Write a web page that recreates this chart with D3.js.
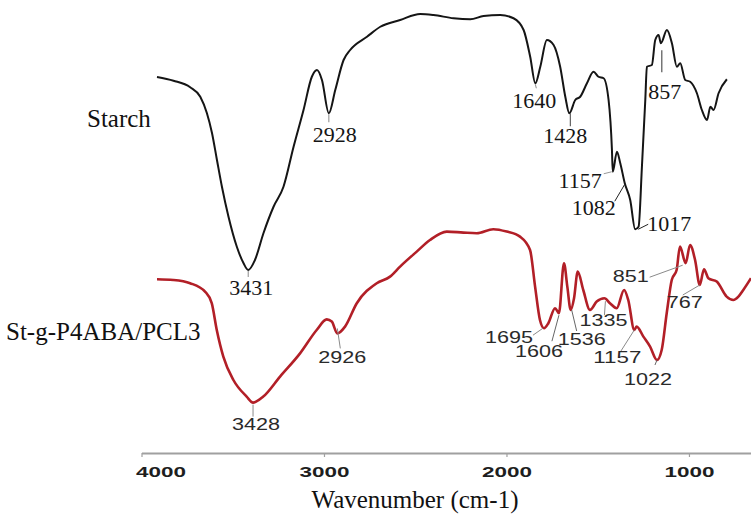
<!DOCTYPE html>
<html>
<head>
<meta charset="utf-8">
<script src="https://cdn.jsdelivr.net/npm/d3@7"></script>
<style>
  html, body { margin: 0; padding: 0; background: #fff; }
  svg { display: block; }
</style>
</head>
<body>
<svg id="chart" width="751" height="522"></svg>
<script>
// FTIR spectra: native starch and the grafted copolymer St-g-P4ABA/PCL3.
const seriesNames = ["Starch", "St-g-P4ABA/PCL3"];
const wavenumberTicks = [4000, 3000, 2000, 1000];
const axisTitle = "Wavenumber (cm-1)";

// Starch trace (wavenumber in cm-1, relative transmittance)
const starchWavenumber = [4000, 3897, 3793, 3730, 3689, 3657, 3626, 3595, 3554, 3502, 3460, 3431,
  3389, 3336, 3273, 3211, 3148, 3086, 3034, 3002, 2971, 2928, 2888, 2836, 2795, 2690, 2607, 2483,
  2358, 2275, 2150, 2046, 1963, 1859, 1776, 1713, 1672, 1640, 1609, 1568, 1526, 1485, 1453, 1428,
  1391, 1360, 1318, 1277, 1246, 1214, 1183, 1162, 1157, 1131, 1110, 1082, 1048, 1017, 996, 975,
  954, 944, 913, 892, 871, 857, 819, 788, 757, 736, 705, 674, 632, 601, 569, 548, 528, 497, 445];
const starchTransmittance = [81.2, 79.7, 77.1, 73.3, 66.8, 58.8, 48, 37.3, 25.3, 13.3, 6.7, 4,
  8, 18.7, 29.3, 37.3, 53.3, 68, 81.3, 84, 80, 66.7, 76, 88, 92, 97.3, 101.3, 104,
  106.4, 106, 104.7, 104.3, 105.6, 106, 104.7, 100, 89.3, 78.7, 85.3, 96, 94, 85.3, 73.3, 66.7,
  72, 73.3, 78.7, 83.3, 81.3, 80.7, 72, 52, 43.3, 51.3, 46.7, 38.7, 32, 20.3, 21.3, 45.3,
  72, 85.3, 86, 96, 98, 94.7, 100, 94.7, 85.3, 86.7, 80, 79.3, 74.7, 68, 64, 69.3, 68, 74.7, 80.3];

// St-g-P4ABA/PCL3 trace
const blendWavenumber = [4000, 3903, 3803, 3714, 3674, 3644, 3605, 3545, 3466, 3428, 3367, 3267,
  3148, 3049, 2989, 2959, 2926, 2880, 2810, 2691, 2612, 2552, 2453, 2374, 2274, 2175, 2096, 1997,
  1917, 1838, 1778, 1748, 1719, 1695, 1669, 1629, 1606, 1576, 1556, 1536, 1516, 1494, 1461, 1421,
  1381, 1335, 1302, 1262, 1218, 1193, 1157, 1143, 1103, 1063, 1022, 994, 964, 934, 905, 885,
  851, 825, 795, 767, 742, 716, 666, 607, 567, 537, 508, 462];
const blendTransmittance = [70.4, 70, 68.4, 64.2, 58.4, 45, 31.7, 20, 11.7, 8.7, 11.7, 21.7,
  33.3, 45, 50.3, 49.2, 43.3, 46.7, 58.4, 68.4, 71.7, 76.7, 84.2, 90, 94.2, 93.7, 93.4, 95.4,
  94.2, 91.7, 85, 66.7, 50, 45.9, 48.4, 55.9, 53.4, 78.4, 66.7, 55, 60.9, 74.2, 65, 55,
  59.2, 60.9, 58.4, 55.9, 65, 60, 45, 46.7, 41.7, 36.7, 30, 35, 53.4, 70, 75, 86.7,
  78.4, 87.5, 80, 67.5, 75.4, 70.9, 69.2, 61.7, 60, 61.7, 65, 70.9];

// Assigned band positions (cm-1)
const starchPeaks = [3431, 2928, 1640, 1428, 1157, 1082, 1017, 857];
const blendPeaks = [3428, 2926, 1695, 1606, 1536, 1335, 1157, 1022, 851, 767];

const svg = d3.select("#chart");

// Each trace sits in its own band; the horizontal spans differ slightly.
const xStarch = d3.scaleLinear().domain([4000, 400]).range([157, 734.1]);
const yStarch = d3.scaleLinear().domain([0, 110]).range([280, 5]);
const xBlend = d3.scaleLinear().domain([4000, 400]).range([157, 761.4]);
const yBlend = d3.scaleLinear().domain([0, 100]).range([420, 220]);
const xAxisScale = d3.scaleLinear().domain([4000, 660]).range([141.5, 751]);

const starchData = starchWavenumber.map((w, i) => ({ w, t: starchTransmittance[i] }));
const blendData = blendWavenumber.map((w, i) => ({ w, t: blendTransmittance[i] }));

function drawTrace(data, x, y, color, width) {
  const line = d3.line().x(d => x(d.w)).y(d => y(d.t)).curve(d3.curveMonotoneX);
  svg.append("path").datum(data)
    .attr("d", line)
    .attr("fill", "none")
    .attr("stroke", color)
    .attr("stroke-width", width)
    .attr("stroke-linejoin", "round");
}

drawTrace(starchData, xStarch, yStarch, "#151515", 2);
drawTrace(blendData, xBlend, yBlend, "#b21f27", 2.6);

// Peak annotation layout: label offset from the band minimum, leader segment and its tone
const starchLayout = {
  3431: { dx: 3, dy: 25, anchor: "middle", l: [0, 1, 0, 7], c: "#8a8a8a" },
  2928: { dx: 6, dy: 29, anchor: "middle", l: [0, 1, 0, 9], c: "#8a8a8a" },
  1640: { dx: -1, dy: 25, anchor: "middle", l: [0, 1, 1, 5], c: "#8a8a8a" },
  1428: { dx: -4, dy: 30, anchor: "middle", l: [1, 0, 1, 13], c: "#444" },
  1157: { dx: -11, dy: 16, anchor: "end", l: [-1, 0, -9, 2], c: "#9a9a9a" },
  1082: { dx: -9, dy: 32, anchor: "end", l: [0, 1, -10, 18], c: "#222" },
  1017: { dx: 12, dy: 2, anchor: "start", l: [3, 0, 13, -5], c: "#222" },
  857: { dx: 4, dy: 56, anchor: "middle", l: [1, 7, 1, 29], c: "#333" }
};
const blendLayout = {
  3428: { dx: 3, dy: 27, anchor: "middle", l: [0, 2, 0, 14], c: "#8a8a8a" },
  2926: { dx: 5, dy: 30, anchor: "middle", l: [0, -5, 3, 15], c: "#8a8a8a" },
  1695: { dx: -11, dy: 15, anchor: "end", l: [-1, 0, -11, 7], c: "#8a8a8a" },
  1606: { dx: -20, dy: 44, anchor: "middle", l: [0, 2, -7, 28], c: "#666" },
  1536: { dx: 11, dy: 35, anchor: "middle", l: [1, 0, 6, 21], c: "#666" },
  1335: { dx: -1, dy: 28, anchor: "middle", l: [1, 3, 0, 17], c: "#8a8a8a" },
  1157: { dx: -17, dy: 33, anchor: "middle", l: [0, 0, -14, 22], c: "#8a8a8a" },
  1022: { dx: -9, dy: 25, anchor: "middle", l: [0, 0, -2, 5], c: "#666" },
  851: { dx: -55, dy: 19, anchor: "middle", l: [-3, 2, -36, 14], c: "#8a8a8a" },
  767: { dx: -15, dy: 23, anchor: "middle", l: [0, 0, -17, 10], c: "#8a8a8a" }
};

function annotate(peaks, data, x, y, layout, textStyle) {
  const g = svg.append("g");
  peaks.forEach(p => {
    const d = data.find(e => e.w === p);
    const px = x(d.w), py = y(d.t), o = layout[p];
    g.append("line")
      .attr("x1", px + o.l[0]).attr("y1", py + o.l[1])
      .attr("x2", px + o.l[2]).attr("y2", py + o.l[3])
      .attr("stroke", o.c).attr("stroke-width", 1);
    const t = g.append("text")
      .attr("x", px + o.dx).attr("y", py + o.dy)
      .attr("text-anchor", o.anchor)
      .text(p);
    textStyle(t, String(p));
  });
}

annotate(starchPeaks, starchData, xStarch, yStarch, starchLayout, t => {
  t.attr("font-family", "'Liberation Serif', 'Times New Roman', serif")
   .attr("font-size", 22).attr("fill", "#151515");
});
annotate(blendPeaks, blendData, xBlend, yBlend, blendLayout, (t, s) => {
  t.attr("font-family", "'Liberation Sans', Arial, sans-serif")
   .attr("font-size", 16).attr("fill", "#2a2a2a")
   .attr("textLength", s.length * 12)
   .attr("lengthAdjust", "spacingAndGlyphs");
});

// Series names
svg.append("text").attr("x", 87).attr("y", 127)
  .attr("font-family", "'Liberation Serif', 'Times New Roman', serif")
  .attr("font-size", 25).attr("fill", "#111").text(seriesNames[0]);
svg.append("text").attr("x", 6).attr("y", 340)
  .attr("font-family", "'Liberation Serif', 'Times New Roman', serif")
  .attr("font-size", 25).attr("fill", "#111").text(seriesNames[1]);

// Wavenumber axis
const axisG = svg.append("g").attr("transform", "translate(0,453)")
  .call(d3.axisBottom(xAxisScale).tickValues(wavenumberTicks).tickSize(4).tickSizeOuter(0).tickPadding(10)
    .tickFormat(d3.format("d")));
axisG.select(".domain").attr("stroke", "#a0a0a0").attr("stroke-width", 2);
axisG.selectAll(".tick line").attr("stroke", "#a0a0a0").attr("stroke-width", 1.2);
axisG.selectAll(".tick text")
  .attr("font-family", "'Liberation Sans', Arial, sans-serif")
  .attr("font-weight", "bold")
  .attr("font-size", 14)
  .attr("fill", "#1e1e1e")
  .attr("textLength", 50)
  .attr("lengthAdjust", "spacingAndGlyphs")
  .attr("dx", d => d === 4000 ? 19 : 0);

svg.append("text").attr("x", 415).attr("y", 508)
  .attr("text-anchor", "middle")
  .attr("font-family", "'Liberation Serif', 'Times New Roman', serif")
  .attr("font-size", 25).attr("fill", "#111").text(axisTitle);
</script>
</body>
</html>
